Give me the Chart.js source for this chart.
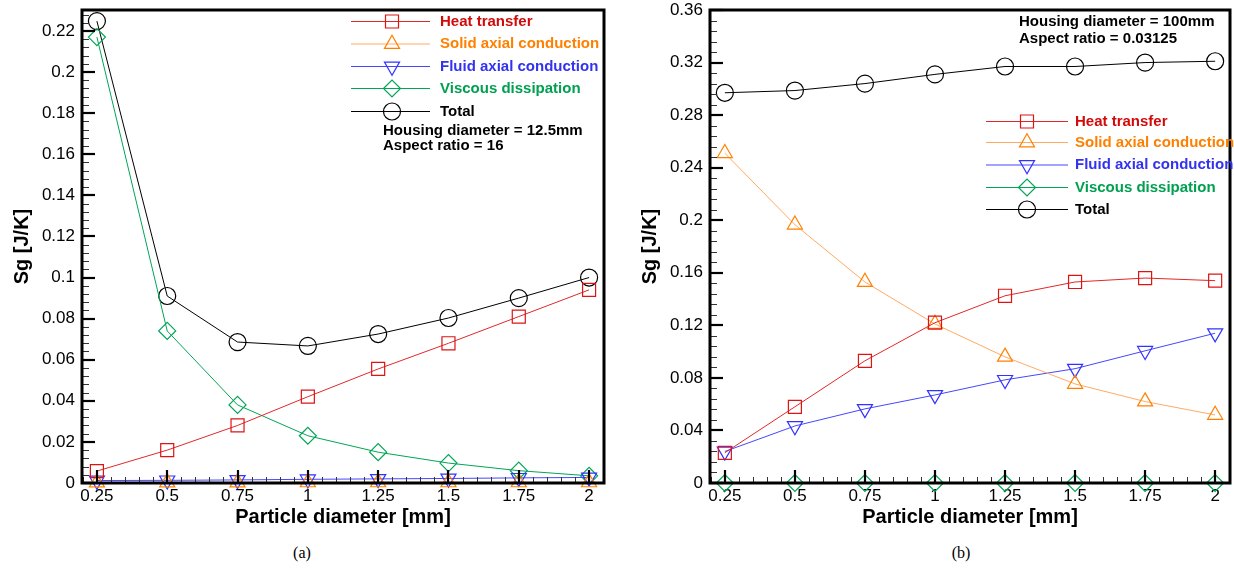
<!DOCTYPE html>
<html>
<head>
<meta charset="utf-8">
<script src="https://cdn.jsdelivr.net/npm/chart.js@4.4.0/dist/chart.umd.min.js"></script>
<style>
  body { margin: 0; background: #fff; width: 1234px; height: 568px; position: relative; overflow: hidden; }
  canvas { position: absolute; top: 0; }
  .cap { position: absolute; top: 544px; font-family: 'Liberation Serif', 'Times New Roman', serif; font-size: 16px; width: 60px; text-align: center; }
</style>
</head>
<body>
<canvas id="chartA" width="617" height="540" style="left:0"></canvas>
<canvas id="chartB" width="617" height="540" style="left:617px"></canvas>
<div class="cap" style="left:272px">(a)</div>
<div class="cap" style="left:931px">(b)</div>
<script>
// particle diameters [mm]
const diameters = [0.25, 0.5, 0.75, 1, 1.25, 1.5, 1.75, 2];
const seriesNames = ['Heat transfer', 'Solid axial conduction', 'Fluid axial conduction', 'Viscous dissipation', 'Total'];

// (a) housing diameter 12.5mm, aspect ratio 16
const heatA  = [0.0058, 0.016, 0.028, 0.042, 0.0555, 0.068, 0.081, 0.094];
const solidA = [0.0002, 0.0002, 0.0002, 0.0003, 0.0003, 0.0003, 0.0003, 0.0003];
const fluidA = [0.0012, 0.0013, 0.0015, 0.0018, 0.002, 0.0022, 0.0025, 0.0027];
const viscA  = [0.217, 0.074, 0.038, 0.023, 0.015, 0.0097, 0.006, 0.0035];
const totalA = [0.2248, 0.091, 0.0686, 0.0667, 0.0725, 0.0803, 0.09, 0.1];

// (b) housing diameter 100mm, aspect ratio 0.03125
const heatB  = [0.023, 0.058, 0.093, 0.122, 0.1425, 0.153, 0.156, 0.154];
const solidB = [0.251, 0.1966, 0.153, 0.121, 0.096, 0.0754, 0.062, 0.0518];
const fluidB = [0.024, 0.0434, 0.0564, 0.067, 0.0785, 0.087, 0.1006, 0.114];
const viscB  = [0, 0, 0, 0, 0, 0, 0, 0];
const totalB = [0.297, 0.2987, 0.304, 0.311, 0.317, 0.317, 0.32, 0.321];

// tick labels
const xTicks = [0.25, 0.5, 0.75, 1, 1.25, 1.5, 1.75, 2];
const yTicksA = [0, 0.02, 0.04, 0.06, 0.08, 0.1, 0.12, 0.14, 0.16, 0.18, 0.2, 0.22];
const yTicksB = [0, 0.04, 0.08, 0.12, 0.16, 0.2, 0.24, 0.28, 0.32, 0.36];

const FONT = "'Liberation Sans', Arial, Helvetica, sans-serif";

// line colour, marker colour, text colour, marker style, rotation, radius
const styles = [
  { line: 'rgb(225,40,40)',   mark: 'rgb(220,20,20)',  text: 'rgb(210,10,10)',  point: 'rect',     rot: 0,   r: 9.2 },
  { line: 'rgb(255,170,100)', mark: 'rgb(255,128,0)',  text: 'rgb(255,128,0)',  point: 'triangle', rot: 0,   r: 8.7 },
  { line: 'rgb(70,70,255)',   mark: 'rgb(50,50,255)',  text: 'rgb(50,50,240)',  point: 'triangle', rot: 180, r: 8.7 },
  { line: 'rgb(0,165,85)',    mark: 'rgb(0,165,85)',   text: 'rgb(0,160,80)',   point: 'rectRot',  rot: 0,   r: 8.5 },
  { line: 'rgb(0,0,0)',       mark: 'rgb(0,0,0)',      text: 'rgb(0,0,0)',      point: 'circle',   rot: 0,   r: 8.5 }
];

function makeDatasets(values) {
  return values.map((vals, i) => ({
    label: seriesNames[i],
    data: vals.map((v, k) => ({ x: diameters[k], y: v })),
    borderColor: styles[i].line,
    borderWidth: 1,
    pointStyle: styles[i].point,
    pointRotation: styles[i].rot,
    pointRadius: styles[i].r,
    pointBorderColor: styles[i].mark,
    pointBorderWidth: 1.2,
    pointBackgroundColor: 'rgba(0,0,0,0)',
    clip: false,
    tension: 0
  }));
}

// frame, inward ticks and in-plot legend
const tecplotPlugin = {
  id: 'tecplot',
  afterDatasetsDraw(chart, args, opts) {
    const ctx = chart.ctx;
    const a = chart.chartArea;
    const xs = chart.scales.x, ys = chart.scales.y;
    ctx.save();
    // minor x ticks
    ctx.strokeStyle = '#333';
    ctx.lineWidth = 1;
    for (let i = -1; i <= 36; i++) {
      if (i % 5 === 0) continue;
      const px = Math.round(xs.getPixelForValue(0.25 + i * 0.05)) + 0.5;
      if (px <= a.left || px >= a.right) continue;
      ctx.beginPath(); ctx.moveTo(px, a.bottom); ctx.lineTo(px, a.bottom - 6); ctx.stroke();
    }
    // minor y ticks
    const n = Math.round(opts.yMax / opts.yMinor);
    for (let i = 1; i <= n; i++) {
      if (i % 5 === 0) continue;
      const py = Math.round(ys.getPixelForValue(i * opts.yMinor)) + 0.5;
      if (py <= a.top) continue;
      ctx.beginPath(); ctx.moveTo(a.left, py); ctx.lineTo(a.left + 7, py); ctx.stroke();
    }
    // major ticks
    ctx.strokeStyle = '#000';
    ctx.lineWidth = 2.2;
    xTicks.forEach(v => {
      const px = Math.round(xs.getPixelForValue(v));
      ctx.beginPath(); ctx.moveTo(px, a.bottom); ctx.lineTo(px, a.bottom - 13); ctx.stroke();
    });
    opts.yTicks.forEach(v => {
      const py = Math.round(ys.getPixelForValue(v));
      ctx.beginPath(); ctx.moveTo(a.left, py); ctx.lineTo(a.left + 13, py); ctx.stroke();
    });
    // frame
    ctx.lineWidth = 3;
    ctx.strokeRect(a.left, a.top, a.right - a.left, a.bottom - a.top);

    // legend
    const lg = opts.legend;
    ctx.font = 'bold 15px ' + FONT;
    ctx.textBaseline = 'middle';
    ctx.textAlign = 'left';
    chart.data.datasets.forEach((ds, i) => {
      const y = lg.rows[i];
      ctx.strokeStyle = ds.borderColor;
      ctx.lineWidth = 1;
      ctx.beginPath(); ctx.moveTo(lg.x0, y); ctx.lineTo(lg.x1, y); ctx.stroke();
      ctx.strokeStyle = ds.pointBorderColor;
      ctx.fillStyle = 'rgba(0,0,0,0)';
      ctx.lineWidth = 1.2;
      Chart.helpers.drawPoint(ctx, { pointStyle: ds.pointStyle, rotation: ds.pointRotation, radius: ds.pointRadius, borderWidth: 1.2 }, lg.xm, y);
      ctx.fillStyle = styles[i].text;
      ctx.fillText(ds.label, lg.xt, y);
    });
    ctx.fillStyle = '#000';
    opts.note.lines.forEach((t, i) => ctx.fillText(t, opts.note.x, opts.note.rows[i]));
    ctx.restore();
  }
};

function makeChart(id, values, yMax, yTicks, yMinor, yAxisWidth, yTitlePad, padRight, legend, note) {
  return new Chart(document.getElementById(id), {
    type: 'line',
    data: { datasets: makeDatasets(values) },
    options: {
      responsive: false,
      animation: false,
      layout: { autoPadding: false, padding: { top: 10, right: padRight, left: 0, bottom: 0 } },
      plugins: {
        legend: { display: false },
        tooltip: { enabled: false },
        tecplot: { yMax: yMax, yTicks: yTicks, yMinor: yMinor, legend: legend, note: note }
      },
      scales: {
        x: {
          type: 'linear',
          min: 0.197, max: 2.053,
          afterBuildTicks: s => { s.ticks = xTicks.map(v => ({ value: v })); },
          afterFit: s => { s.height = 57; s.paddingLeft = 0; s.paddingRight = 0; },
          grid: { display: false, drawTicks: false },
          border: { display: false },
          ticks: { color: '#000', padding: 3, autoSkip: false, maxRotation: 0, font: { family: FONT, size: 17 }, callback: v => String(v) },
          title: { display: true, text: 'Particle diameter [mm]', color: '#000', font: { family: FONT, size: 20, weight: 'bold' }, padding: { top: 0, bottom: 11 } }
        },
        y: {
          type: 'linear',
          min: 0, max: yMax,
          afterBuildTicks: s => { s.ticks = yTicks.map(v => ({ value: v })); },
          afterFit: s => { s.width = yAxisWidth; s.paddingTop = 0; s.paddingBottom = 0; },
          grid: { display: false, drawTicks: false },
          border: { display: false },
          ticks: { color: '#000', padding: 7, font: { family: FONT, size: 17 }, callback: v => String(v) },
          title: { display: true, text: 'Sg [J/K]', color: '#000', font: { family: FONT, size: 20, weight: 'bold' }, padding: { top: yTitlePad, bottom: 0 } }
        }
      }
    },
    plugins: [tecplotPlugin]
  });
}

makeChart('chartA', [heatA, solidA, fluidA, viscA, totalA], 0.2302, yTicksA, 0.004, 82, 10, 13,
  { x0: 351, x1: 430, xm: 392, xt: 440, rows: [21.5, 44, 66.5, 88.5, 111.5] },
  { x: 383, rows: [131, 146], lines: ['Housing diameter = 12.5mm', 'Aspect ratio = 16'] });

makeChart('chartB', [heatB, solidB, fluidB, viscB, totalB], 0.36, yTicksB, 0.008, 93, 21, 4,
  { x0: 369, x1: 451, xm: 410, xt: 458, rows: [121.5, 142.5, 165, 187.5, 209.5] },
  { x: 402, rows: [22, 38.5], lines: ['Housing diameter = 100mm', 'Aspect ratio = 0.03125'] });
</script>
</body>
</html>
